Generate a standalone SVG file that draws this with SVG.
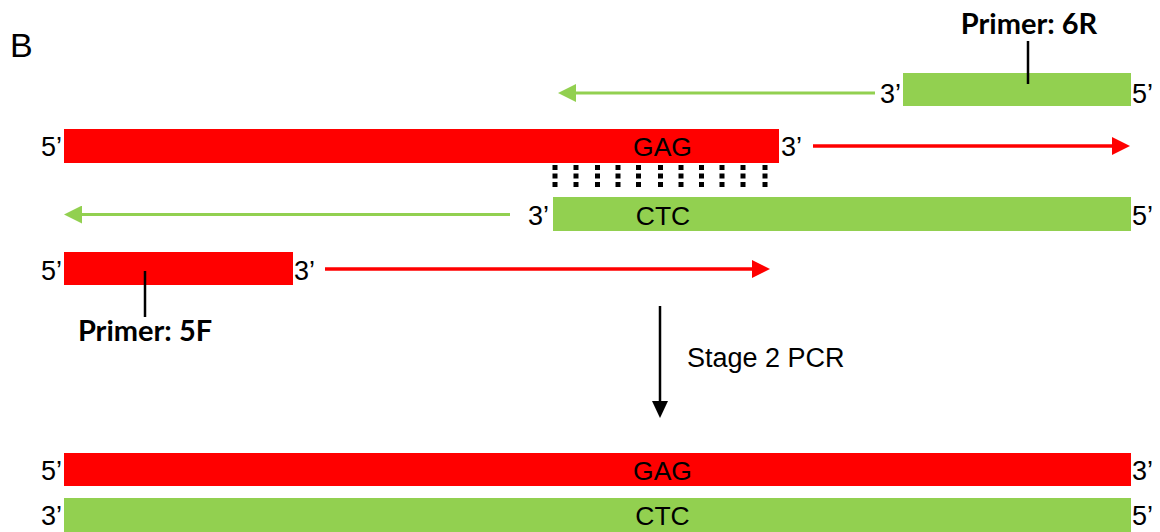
<svg xmlns="http://www.w3.org/2000/svg" width="1160" height="532" viewBox="0 0 1160 532">
  <style>
    .red { fill: #FF0000; }
    .green { fill: #92D050; }
    .lbl { font-family: "Liberation Sans", Arial, sans-serif; font-size: 27px; fill: #000; }
    .seq { font-family: "Liberation Sans", Arial, sans-serif; font-size: 26.5px; fill: #000; text-anchor: middle; }
    .primer { font-family: Lato, "Open Sans", sans-serif; font-weight: bold; font-size: 29px; fill: #000; text-anchor: middle; }
    .lead { stroke: #000; stroke-width: 2.5; fill: none; }
    .ext-red { stroke: #FF0000; stroke-width: 3.5; fill: none; marker-end: url(#head-red); }
    .ext-green { stroke: #92D050; stroke-width: 3; fill: none; marker-end: url(#head-green); }
    .step { stroke: #000; stroke-width: 2.5; fill: none; marker-end: url(#head-black); }
    .pair { stroke: #000; stroke-width: 5; stroke-dasharray: 5 3.5; fill: none; }
  </style>
  <defs>
    <marker id="head-red" markerUnits="userSpaceOnUse" markerWidth="18" markerHeight="18" refX="0" refY="9" orient="auto">
      <path d="M0,0 L18,9 L0,18 z" fill="#FF0000"/>
    </marker>
    <marker id="head-green" markerUnits="userSpaceOnUse" markerWidth="18" markerHeight="18" refX="0" refY="9" orient="auto">
      <path d="M0,0 L18,9 L0,18 z" fill="#92D050"/>
    </marker>
    <marker id="head-black" markerUnits="userSpaceOnUse" markerWidth="17" markerHeight="16" refX="0" refY="8" orient="auto">
      <path d="M0,0 L17,8 L0,16 z" fill="#000"/>
    </marker>
  </defs>

  <!-- panel letter -->
  <text x="10" y="57" font-family="Liberation Sans, Arial, sans-serif" font-size="34" fill="#000">B</text>

  <!-- reverse primer 6R -->
  <g id="primer-6R">
    <rect class="green" x="903" y="73" width="228" height="33"/>
    <text class="lbl" x="901" y="102.5" text-anchor="end">3’</text>
    <text class="lbl" x="1132" y="102.5">5’</text>
    <line class="lead" x1="1028" y1="41" x2="1028" y2="84"/>
    <text class="primer" x="1029" y="34">Primer: 6R</text>
  </g>

  <!-- upper template strand with GAG -->
  <g id="strand-GAG">
    <rect class="red" x="64" y="129" width="715" height="34"/>
    <text class="seq" x="662.5" y="156">GAG</text>
    <text class="lbl" x="62" y="156" text-anchor="end">5’</text>
    <text class="lbl" x="781" y="156">3’</text>
  </g>

  <!-- lower template strand with CTC -->
  <g id="strand-CTC">
    <rect class="green" x="553" y="197" width="578" height="34"/>
    <text class="seq" x="663" y="224.5">CTC</text>
    <text class="lbl" x="549" y="224.5" text-anchor="end">3’</text>
    <text class="lbl" x="1132" y="224.5">5’</text>
  </g>

  <!-- forward primer 5F -->
  <g id="primer-5F">
    <rect class="red" x="64" y="252" width="229" height="33"/>
    <text class="lbl" x="62" y="279.5" text-anchor="end">5’</text>
    <text class="lbl" x="294" y="279.5">3’</text>
    <line class="lead" x1="145" y1="271" x2="145" y2="317"/>
    <text class="primer" x="145" y="341">Primer: 5F</text>
  </g>

  <!-- base pairing between GAG and CTC -->
  <g id="pairing">
    <line class="pair" x1="555" y1="165" x2="555" y2="187.5"/>
    <line class="pair" x1="576" y1="165" x2="576" y2="187.5"/>
    <line class="pair" x1="597.5" y1="165" x2="597.5" y2="187.5"/>
    <line class="pair" x1="618" y1="165" x2="618" y2="187.5"/>
    <line class="pair" x1="638.5" y1="165" x2="638.5" y2="187.5"/>
    <line class="pair" x1="660.5" y1="165" x2="660.5" y2="187.5"/>
    <line class="pair" x1="681" y1="165" x2="681" y2="187.5"/>
    <line class="pair" x1="701.5" y1="165" x2="701.5" y2="187.5"/>
    <line class="pair" x1="722" y1="165" x2="722" y2="187.5"/>
    <line class="pair" x1="743" y1="165" x2="743" y2="187.5"/>
    <line class="pair" x1="765" y1="165" x2="765" y2="187.5"/>
  </g>

  <!-- extension arrows and process step -->
  <g id="connectors">
    <line class="ext-green" x1="875" y1="93" x2="576" y2="93"/>
    <line class="ext-red" x1="813" y1="146" x2="1112" y2="146"/>
    <line class="ext-green" x1="510" y1="214.5" x2="82" y2="214.5"/>
    <line class="ext-red" x1="325" y1="269" x2="752" y2="269"/>
    <line class="step" x1="660" y1="306" x2="660" y2="401"/>
  </g>

  <g id="step-label">
    <text class="lbl" x="687" y="367">Stage 2 PCR</text>
  </g>

  <!-- full-length product -->
  <g id="product-GAG">
    <rect class="red" x="64" y="453" width="1067" height="33"/>
    <text class="seq" x="662.5" y="479.5">GAG</text>
    <text class="lbl" x="62" y="479.5" text-anchor="end">5’</text>
    <text class="lbl" x="1132" y="479.5">3’</text>
  </g>
  <g id="product-CTC">
    <rect class="green" x="64" y="498" width="1067" height="34"/>
    <text class="seq" x="662.5" y="524.5">CTC</text>
    <text class="lbl" x="62" y="524.5" text-anchor="end">3’</text>
    <text class="lbl" x="1132" y="524.5">5’</text>
  </g>
</svg>
